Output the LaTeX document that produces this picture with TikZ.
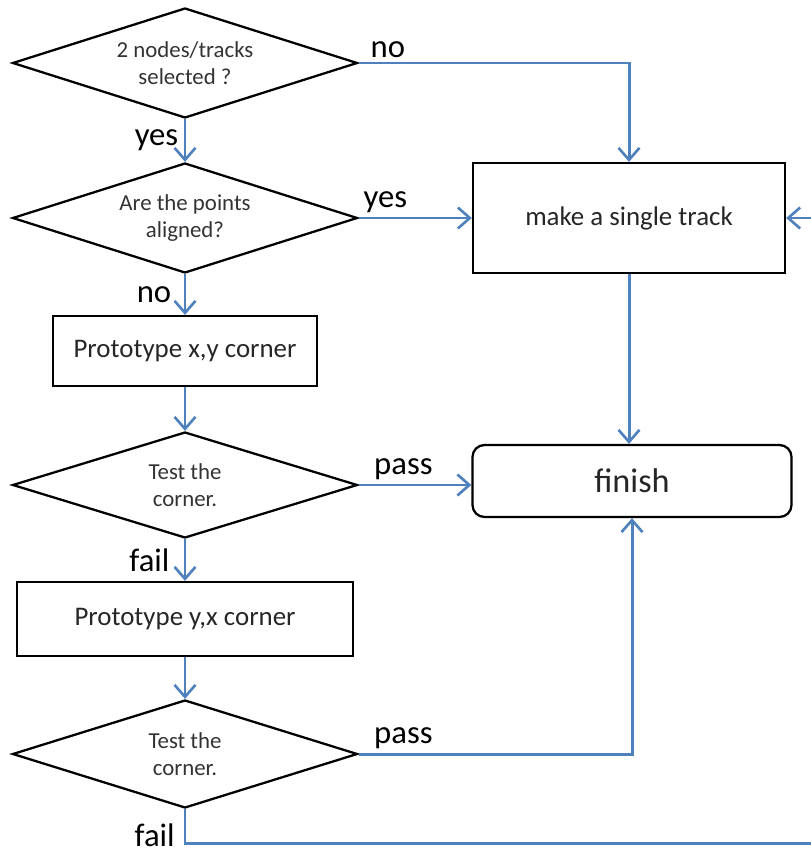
\documentclass[tikz,border=0pt]{standalone}
\usepackage{fontspec}
\setmainfont{Carlito}
\usetikzlibrary{shapes.geometric,arrows.meta}
\definecolor{flowblue}{RGB}{79,129,189}

\begin{document}
\begin{tikzpicture}[
    question/.style={draw,line width=1.3pt,diamond,aspect=3,inner sep=0pt,
      minimum width=6.9cm,minimum height=2.2cm,align=center,
      font=\fontsize{13}{15.5}\selectfont,text=black!80},
    action/.style={draw,line width=1.3pt,rectangle,inner sep=0pt,
      font=\fontsize{15.3}{18}\selectfont,text=black!85},
    flow/.style={draw=flowblue,line width=1.7pt,
      -{Straight Barb[length=2.4mm,width=4.2mm,line width=1.5pt]}},
    answer/.style={font=\fontsize{18.6}{21}\selectfont,inner sep=1pt}]
    \useasboundingbox (0,0) rectangle (16.2,-17.1);
    \node[question] (selected) at (3.7,-1.26) {2 nodes/tracks\\selected ?};
    \node[question] (aligned) at (3.7,-4.36) {Are the points\\aligned?};
    \node[action,minimum width=6.24cm,minimum height=2.2cm] (single) at (12.58,-4.36) {make a single track};
    \node[action,minimum width=5.28cm,minimum height=1.4cm] (protoxy) at (3.7,-7.02) {Prototype x,y corner};
    \node[question,minimum height=2.12cm] (testxy) at (3.7,-9.7) {Test the\\corner.};
    \node[action,rounded corners=0.24cm,minimum width=6.38cm,minimum height=1.44cm,
      font=\fontsize{19.5}{22}\selectfont] (finish) at (12.64,-9.62) {finish};
    \node[action,minimum width=6.72cm,minimum height=1.48cm] (protoyx) at (3.7,-12.38) {Prototype y,x corner};
    \node[question,minimum height=2.16cm] (testyx) at (3.7,-15.08) {Test the\\corner.};
    \coordinate (around) at (16.6,-16.86);

    \draw[flow] (selected.east) -| node[answer,pos=0,above right,xshift=5pt,yshift=1pt] {no} (single.north);
    \draw[flow] (selected.south) -- node[answer,left,xshift=-2pt] {yes} (aligned.north);
    \draw[flow] (aligned.east) -- node[answer,pos=0,above right,xshift=1pt,yshift=1pt] {yes} (single.west);
    \draw[flow] (aligned.south) -- node[answer,left,xshift=-6pt] {no} (protoxy.north);
    \draw[flow] (single.south) -- (finish.north -| single.south);
    \draw[flow] (protoxy.south) -- (testxy.north);
    \draw[flow] (testxy.east) -- node[answer,pos=0,above right,xshift=7pt,yshift=1pt] {pass} (testxy.east -| finish.west);
    \draw[flow] (testxy.south) -- node[answer,left,xshift=-7pt] {fail} (protoyx.north);
    \draw[flow] (protoyx.south) -- (testyx.north);
    \draw[flow] (testyx.east) -| node[answer,pos=0,above right,xshift=7pt,yshift=1pt] {pass} (finish.south);
    \draw[flow] (testyx.south) |- node[answer,pos=0.38,left,xshift=-4pt] {fail} (around) |- (single.east);
\end{tikzpicture}
\end{document}
